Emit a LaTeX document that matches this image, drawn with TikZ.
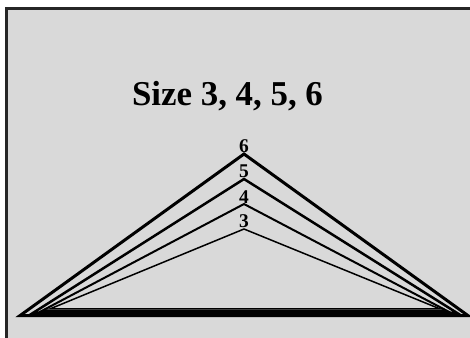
\documentclass[tikz,border=0pt]{standalone}
\usepackage{fontspec}
\setmainfont{Liberation Serif}
\usepackage{xcolor}
\usetikzlibrary{positioning,calc}

\definecolor{panelgray}{HTML}{D9D9D9}
\definecolor{framegray}{HTML}{262626}

\begin{document}
\begin{tikzpicture}[
    x=1bp, y=-1bp,
    heading/.style={font=\bfseries\fontsize{35}{40}\selectfont, inner sep=0pt, anchor=base},
    sizelabel/.style={font=\bfseries\fontsize{19.5}{22}\selectfont, inner sep=0.8pt, anchor=south},
    roof/.style={draw=black, line join=miter}
]
\useasboundingbox (0,0) rectangle (470,337);
\fill[white] (0,0) rectangle (470,337);
\filldraw[fill=panelgray, draw=framegray, line width=3bp] (6.5,8.5) rectangle (475,345);

\node [heading] (title) at (227.5,105) {Size 3, 4, 5, 6};

% one roof per size: apex y / left x / right x / base y
\foreach \s/\ay/\lx/\rx/\by in {3/229/50/440/308.9, 4/204/42/447/310.8, 5/179/33/457/312.9, 6/154/20/468/315.6} {
    \coordinate (apex\s) at (244,\ay);
    \draw [roof, line width=0.5*\s bp] (\lx,\by) -- (apex\s) -- (\rx,\by) -- cycle;
    \node [sizelabel] (lab\s) at (apex\s) {\s};
}

\end{tikzpicture}
\end{document}
